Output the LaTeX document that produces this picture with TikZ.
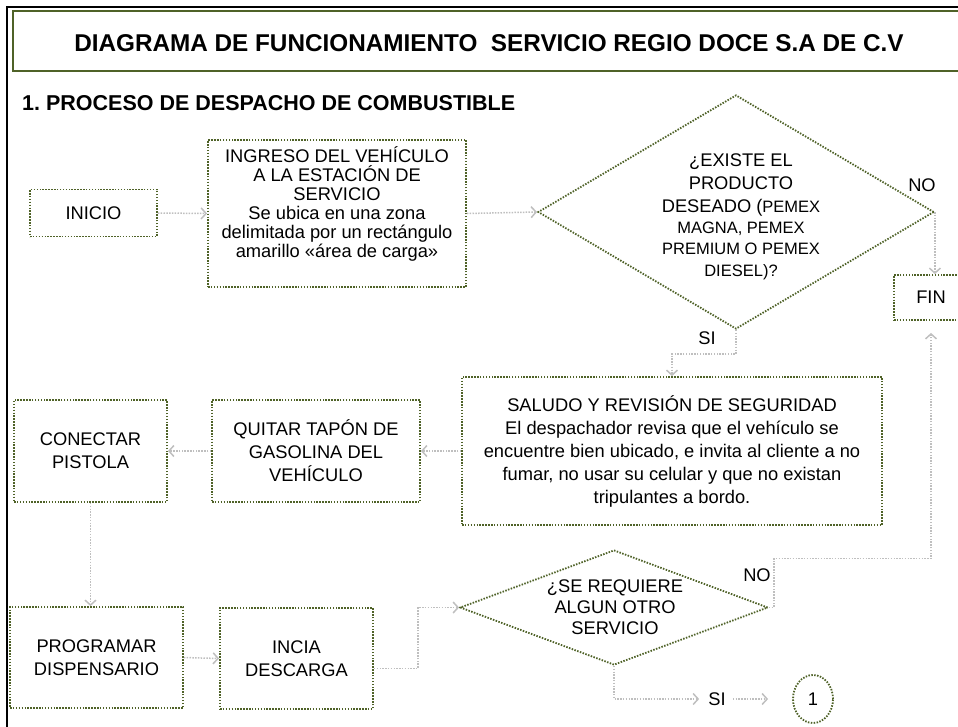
\documentclass[tikz,border=0pt]{standalone}
\usepackage{fontspec}
\setmainfont{Liberation Sans}
\usetikzlibrary{shapes.geometric,arrows.meta,calc}
\definecolor{boxgreen}{RGB}{79,98,40}
\definecolor{arrgrey}{RGB}{191,191,191}
\tikzset{
  txt/.style={font=\fontsize{18.3}{23}\selectfont, align=center},
  box/.style={txt, draw=boxgreen, line width=1.8pt, dash pattern=on 1.5pt off 1.4pt, inner sep=2pt},
  dia/.style={diamond, draw=boxgreen, line width=1.8pt, dash pattern=on 1.5pt off 1.4pt, inner sep=0pt},
  arr/.style={draw=arrgrey, line width=1.5pt, dash pattern=on 1.5pt off 1.3pt, -{Straight Barb[length=5pt,width=11pt]}},
  lbl/.style={txt, inner sep=1pt},
  small/.style={font=\fontsize{16.5}{19}\selectfont},
}
\newcommand{\smtxt}[1]{{\fontsize{16.5}{19}\selectfont #1}}
\begin{document}
\begin{tikzpicture}[x=1pt,y=-1pt]
\useasboundingbox (0,0) rectangle (958,726);
% frame
\draw[black, line width=2pt] (7,740) -- (7,7) -- (970,7);
\draw[boxgreen, line width=2.2pt] (13,11) rectangle (975,71);
\node[font=\fontsize{24.3}{28}\selectfont\bfseries] (title) at (489,43.5) {DIAGRAMA DE FUNCIONAMIENTO\ \ SERVICIO REGIO DOCE S.A DE C.V};
\node[font=\fontsize{21.5}{26}\selectfont\bfseries, anchor=west, inner sep=0pt] (head) at (22,103) {1.\ PROCESO DE DESPACHO DE COMBUSTIBLE};
% nodes
\node[box, minimum width=127pt, minimum height=47pt] (inicio) at (93.5,213) {INICIO};
\node[box, minimum width=258pt, minimum height=147pt, font=\fontsize{18.3}{19}\selectfont] (ingreso) at (337,213.5) {INGRESO DEL VEHÍCULO\\A LA ESTACIÓN DE\\SERVICIO\\Se ubica en una zona\\delimitada por un rectángulo\\amarillo «área de carga»\\[4pt]};
\node[dia, minimum width=396pt, minimum height=234pt] (d1) at (736,212) {};
\node[lbl] (d1t) at (741,217) {¿EXISTE EL\\PRODUCTO\\DESEADO (\smtxt{PEMEX}\\[-2pt]\smtxt{MAGNA, PEMEX}\\[-2pt]\smtxt{PREMIUM O PEMEX}\\[-1pt]\smtxt{DIESEL)?}};
\node[box, minimum width=74pt, minimum height=45pt] (fin) at (931,297.5) {FIN};
\node[box, minimum width=420pt, minimum height=148pt] (saludo) at (672,451) {SALUDO Y REVISIÓN DE SEGURIDAD\\El despachador revisa que el vehículo se\\encuentre bien ubicado, e invita al cliente a no\\fumar, no usar su celular y que no existan\\tripulantes a bordo.};
\node[box, minimum width=208pt, minimum height=102pt] (quitar) at (316,451) {QUITAR TAPÓN DE\\GASOLINA DEL\\VEHÍCULO};
\node[box, minimum width=153pt, minimum height=102pt] (conectar) at (90.5,451) {CONECTAR\\PISTOLA};
\node[box, minimum width=173pt, minimum height=101pt] (programar) at (96.5,657.5) {PROGRAMAR\\DISPENSARIO};
\node[box, minimum width=153pt, minimum height=101pt] (incia) at (296.5,658.5) {INCIA\\DESCARGA};
\node[dia, minimum width=308pt, minimum height=115pt] (d2) at (614,607.5) {};
\node[lbl, font=\fontsize{18.3}{21}\selectfont] (d2t) at (615,607) {¿SE REQUIERE\\ALGUN OTRO\\SERVICIO};
\node[lbl] (si2) at (717,699) {SI};
\node[txt, draw=boxgreen, line width=1.8pt, dash pattern=on 1.5pt off 1.4pt, ellipse, minimum width=40pt, minimum height=48pt, inner sep=0pt] (c1) at (813,699) {1};
% labels
\node[lbl] (no1) at (922,185) {NO};
\node[lbl] (si1) at (707,338) {SI};
\node[lbl] (no2) at (757,575) {NO};
% connectors
\draw[arr] (inicio.east) -- (ingreso.west);
\draw[arr] (ingreso.east) -- (d1.west);
\draw[arr] (d1.east) -- (d1.east |- fin.north);
\draw[arr] (d1.south) -- ++(0,24) -| (saludo.north);
\draw[arr] (saludo.west) -- (quitar.east);
\draw[arr] (quitar.west) -- (conectar.east);
\draw[arr] (conectar.south) -- (conectar.south |- programar.north);
\draw[arr] (programar.east) -- (incia.west);
\draw[arr] ([yshift=-10pt]incia.east) -- ++(44,0) |- (d2.west);
\draw[arr, shorten >=12pt] (d2.east) -- ++(5,0) -- ++(0,-49) -| (fin.south);
\draw[arr, shorten >=8pt] (d2.south) |- (si2.west);
\draw[arr, shorten <=6pt, shorten >=24pt] (si2.east) -- (c1.west);
\end{tikzpicture}
\end{document}
